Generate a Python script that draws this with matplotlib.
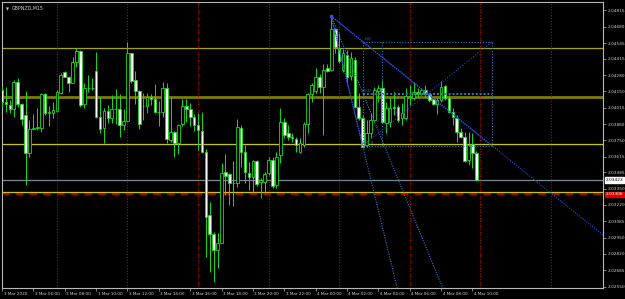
import numpy as np
import matplotlib.pyplot as plt
from matplotlib.transforms import ScaledTranslation, blended_transform_factory

## DATA - GBPNZD M15, 3 Mar 04:00 .. 4 Mar 10:15 (one entry per bar)

opens = [2.04160, 2.04064, 2.04037, 2.04002, 2.04223, 2.04045, 2.03955, 2.03642, 2.03838, 2.03849,
         2.03846, 2.04127, 2.03969, 2.03969, 2.03990, 2.04138, 2.04305, 2.04269, 2.04220, 2.04392,
         2.04479, 2.04043, 2.04174, 2.04176, 2.04316, 2.03941, 2.03851, 2.03988, 2.03933, 2.04004,
         2.04002, 2.03873, 2.03909, 2.04460, 2.04242, 2.04152, 2.04029, 2.04029, 2.04105, 2.04084,
         2.03979, 2.03977, 2.04174, 2.03750, 2.03814, 2.03723, 2.03882, 2.04029, 2.04002, 2.03941,
         2.03873, 2.03827, 2.03655, 2.03137, 2.02979, 2.02850, 2.02910, 2.03491, 2.03470, 2.03396,
         2.03401, 2.03851, 2.03655, 2.03483, 2.03446, 2.03578, 2.03404, 2.03404, 2.03478, 2.03587,
         2.03382, 2.03628, 2.03900, 2.03805, 2.03777, 2.03759, 2.03655, 2.03709, 2.03879, 2.04125,
         2.04152, 2.04269, 2.04187, 2.04338, 2.04324, 2.04659, 2.04501, 2.04324, 2.04447, 2.04275,
         2.04406, 2.04023, 2.03928, 2.03709, 2.03808, 2.03914, 2.04152, 2.04179, 2.03887, 2.03896,
         2.04023, 2.04023, 2.03928, 2.03928, 2.04105, 2.04092, 2.04141, 2.04125, 2.04160, 2.04125,
         2.04086, 2.04043, 2.04078, 2.04193, 2.04097, 2.03982, 2.03933, 2.03819, 2.03777, 2.03587,
         2.03715, 2.03642]
highs = [2.04187, 2.04187, 2.04078, 2.04242, 2.04261, 2.04051, 2.04152, 2.03914, 2.03963, 2.04010,
         2.04138, 2.04133, 2.04029, 2.04064, 2.04160, 2.04297, 2.04318, 2.04275, 2.04433, 2.04501,
         2.04488, 2.04215, 2.04283, 2.04258, 2.04469, 2.04100, 2.04010, 2.04037, 2.04119, 2.04166,
         2.04127, 2.04004, 2.04555, 2.04467, 2.04316, 2.04160, 2.04135, 2.04138, 2.04127, 2.04207,
         2.04070, 2.04228, 2.04215, 2.04105, 2.03824, 2.03882, 2.04086, 2.04086, 2.04051, 2.03961,
         2.03971, 2.03979, 2.03677, 2.03245, 2.03000, 2.02987, 2.03560, 2.03633, 2.03478, 2.03578,
         2.03922, 2.03873, 2.03709, 2.03573, 2.03587, 2.03587, 2.03442, 2.03491, 2.03614, 2.03614,
         2.03655, 2.04015, 2.03933, 2.03873, 2.03805, 2.03777, 2.03764, 2.03896, 2.04133, 2.04215,
         2.04338, 2.04289, 2.04370, 2.04370, 2.04764, 2.04668, 2.04627, 2.04496, 2.04488, 2.04471,
         2.04430, 2.04135, 2.03955, 2.03914, 2.03971, 2.04187, 2.04201, 2.04242, 2.04064, 2.04094,
         2.04141, 2.04037, 2.04053, 2.04174, 2.04201, 2.04228, 2.04174, 2.04179, 2.04201, 2.04133,
         2.04097, 2.04092, 2.04234, 2.04201, 2.04119, 2.04012, 2.03955, 2.03849, 2.03819, 2.03819,
         2.03805, 2.03660]
lows = [2.04023, 2.03982, 2.03974, 2.03941, 2.04018, 2.03873, 2.03382, 2.03614, 2.03832, 2.03832,
        2.03819, 2.03955, 2.03865, 2.03928, 2.03982, 2.04127, 2.04264, 2.04146, 2.04215, 2.04351,
        2.04018, 2.04010, 2.04141, 2.04160, 2.03928, 2.03805, 2.03728, 2.03892, 2.03887, 2.03882,
        2.03777, 2.03832, 2.03900, 2.04220, 2.04043, 2.03838, 2.03914, 2.03969, 2.04037, 2.03969,
        2.03865, 2.03941, 2.03723, 2.03736, 2.03614, 2.03636, 2.03865, 2.03900, 2.03865, 2.03824,
        2.03669, 2.03646, 2.02795, 2.02672, 2.02590, 2.02700, 2.02905, 2.03300, 2.03218, 2.03213,
        2.03368, 2.03532, 2.03396, 2.03341, 2.03327, 2.03376, 2.03278, 2.03314, 2.03464, 2.03355,
        2.03355, 2.03560, 2.03764, 2.03750, 2.03736, 2.03655, 2.03646, 2.03695, 2.03805, 2.04064,
        2.04133, 2.04133, 2.03791, 2.04310, 2.04316, 2.04463, 2.04381, 2.04310, 2.04225, 2.04242,
        2.04012, 2.03914, 2.03685, 2.03693, 2.03764, 2.03900, 2.04064, 2.03887, 2.03805, 2.03859,
        2.03955, 2.03900, 2.03873, 2.03914, 2.04037, 2.04078, 2.04105, 2.04119, 2.04105, 2.04064,
        2.04037, 2.03961, 2.04064, 2.04078, 2.03969, 2.03873, 2.03736, 2.03764, 2.03573, 2.03546,
        2.03519, 2.03417]
closes = [2.04064, 2.04043, 2.04002, 2.04228, 2.04045, 2.03925, 2.03642, 2.03841, 2.03846, 2.03857,
          2.04127, 2.03974, 2.03982, 2.03996, 2.04146, 2.04283, 2.04269, 2.04220, 2.04392, 2.04479,
          2.04037, 2.04174, 2.04176, 2.04174, 2.03941, 2.03838, 2.03988, 2.03933, 2.04004, 2.04002,
          2.03873, 2.03909, 2.04460, 2.04236, 2.04152, 2.03879, 2.04027, 2.04105, 2.04084, 2.03982,
          2.03982, 2.04174, 2.03756, 2.03814, 2.03723, 2.03873, 2.04029, 2.04002, 2.03941, 2.03873,
          2.03832, 2.03655, 2.03123, 2.02979, 2.02850, 2.02910, 2.03483, 2.03456, 2.03396, 2.03401,
          2.03855, 2.03655, 2.03486, 2.03448, 2.03578, 2.03390, 2.03426, 2.03470, 2.03587, 2.03376,
          2.03614, 2.03900, 2.03791, 2.03777, 2.03764, 2.03709, 2.03723, 2.03879, 2.04125, 2.04201,
          2.04269, 2.04187, 2.04324, 2.04318, 2.04659, 2.04512, 2.04397, 2.04460, 2.04269, 2.04422,
          2.04023, 2.03928, 2.03695, 2.03808, 2.03914, 2.04160, 2.04176, 2.03896, 2.04015, 2.04015,
          2.04015, 2.03914, 2.03969, 2.04113, 2.04108, 2.04141, 2.04125, 2.04160, 2.04125, 2.04078,
          2.04045, 2.04078, 2.04187, 2.04097, 2.03982, 2.03941, 2.03819, 2.03772, 2.03581, 2.03709,
          2.03642, 2.03423]

time_labels = ["3 Mar 2020", "3 Mar 06:00", "3 Mar 08:00", "3 Mar 10:00", "3 Mar 12:00",
               "3 Mar 14:00", "3 Mar 16:00", "3 Mar 18:00", "3 Mar 20:00", "3 Mar 22:00",
               "4 Mar 00:00", "4 Mar 02:00", "4 Mar 04:00", "4 Mar 06:00", "4 Mar 08:00",
               "4 Mar 10:00"]
time_label_bars = list(range(0, 121, 8))

price_ticks = [2.04815, 2.04680, 2.04545, 2.04415, 2.04280, 2.04150, 2.04015, 2.03880, 2.03750,
               2.03615, 2.03485, 2.03350, 2.03220, 2.03085, 2.02950, 2.02820, 2.02685, 2.02550]

# horizontal levels drawn on the chart
level_prices = [2.04502, 2.04105, 2.03718, 2.03323]
alert_price = 2.03306
separator_bars = [14, 32, 50, 68, 86, 104, 122, 140]

# fib retracement box + fan from the 4 Mar top
fan_origin = (84, 2.04764)
fib_start = (92, 2.03704)
fib_end = (125, 2.04556)
fib_mid_bar = 97
fan_targets = [(125, 2.03704), (92, 2.03704), (112.4, 2.02539)]

## STYLE

BG = "black"
CANDLE = "#19dc19"
AXIS_TXT = "#d2d2d2"
FRAME = "#b8b8b8"
BLUE = "#2a4bff"
STEEL = "#2a78c8"

X_LEFT, X_RIGHT = 0.18, 153.3
Y_LOW, Y_HIGH = 2.02539, 2.04881

fig = plt.figure(figsize=(6.25, 2.99), dpi=100, facecolor=BG)
ax = fig.add_axes([2 / 625, 11 / 299, 601 / 625, 286 / 299], facecolor=BG)
ax.set_xlim(X_LEFT, X_RIGHT)
ax.set_ylim(Y_LOW, Y_HIGH)

## LEVELS / SEPARATORS (background)

level_colors = ["#a6a600", "#7c7c00", "#c8c800", "#c8c800"]
level_widths = [0.9, 2.0, 0.9, 0.9]
for p, c, w in zip(level_prices, level_colors, level_widths):
    ax.axhline(p, color=c, lw=w, zorder=1)

ax.axhline(closes[-1], color="#7a8796", lw=0.9, zorder=1)
ax.axhline(alert_price, color="#e00000", lw=1.1, dashes=(5, 4), zorder=1)

for b in separator_bars:
    ax.axvline(b, color="#c40000", lw=0.8, ls=(0, (1, 1.5)), zorder=1)

## CANDLES

x = np.arange(len(opens))
o = np.array(opens)
c = np.array(closes)
ax.vlines(x, lows, highs, color=CANDLE, lw=0.7, zorder=3)

bull = c >= o
body_lo = np.minimum(o, c)
body_h = np.maximum(np.abs(c - o), 0.00002)
ax.bar(x[bull], body_h[bull], bottom=body_lo[bull], width=0.68,
       facecolor=BG, edgecolor=CANDLE, linewidth=0.6, zorder=4)
ax.bar(x[~bull], body_h[~bull], bottom=body_lo[~bull], width=0.68,
       facecolor="white", edgecolor=CANDLE, linewidth=0.6, zorder=4)

## BLUE OBJECTS (fib box, fan)

x0, y0 = fib_start
x1, y1 = fib_end
ymid = (y0 + y1) / 2
box_kw = dict(color=STEEL, lw=0.8, ls=(0, (1, 1.5)), zorder=5)
ax.plot([x0, x1], [y1, y1], **box_kw)
ax.plot([x0, x1], [y0, y0], **box_kw)
ax.plot([x1, x1], [y0, y1], **box_kw)
ax.plot([x0, x0], [y0, y1], **box_kw)
ax.plot([fib_mid_bar, fib_mid_bar], [y0, y1], **box_kw)
ax.plot([x0, x1], [ymid, ymid], color=STEEL, lw=1.4, ls=(0, (1, 1)), zorder=5)
ax.plot([x0, x1], [y0, y1], color="#2345c8", lw=0.8, ls=(0, (1, 1.5)), zorder=5)

lbl_kw = dict(color=STEEL, fontsize=3.2, va="bottom", ha="left", zorder=6)
ax.text(x0 + 0.6, y1 + 0.00003, "0.0", **lbl_kw)
ax.text(x0 - 0.2, ymid + 0.00003, "50.0", **lbl_kw)
ax.text(x0 - 0.2, y0 + 0.00003, "100.0", **lbl_kw)

fx, fy = fan_origin
for k, (tx, ty) in enumerate(fan_targets):
    slope = (ty - fy) / (tx - fx)
    end_x = X_RIGHT if k == 0 else fx + (Y_LOW - fy) / slope
    col = BLUE if k == 0 else STEEL
    ax.plot([fx, end_x], [fy, fy + slope * (end_x - fx)], color=col, lw=0.8,
            ls=(0, (1, 1.2)), zorder=5)
# brighter segments of the fan base
ax.plot([fx, fib_start[0]], [fy, fib_start[1]], color=BLUE, lw=0.9, ls=(0, (1, 0.8)), zorder=5)
ax.plot([fx, fan_targets[0][0]], [fy, fan_targets[0][1]], color=BLUE, lw=0.9, ls=(0, (1, 0.8)), zorder=5)
ax.plot([fx], [fy], marker="s", ms=1.6, color="#3050ff", zorder=6)

## AXES / LABELS

for side in ["top", "bottom", "left", "right"]:
    ax.spines[side].set_color(FRAME)
    ax.spines[side].set_linewidth(0.8)

ax.yaxis.tick_right()
ax.set_yticks(price_ticks)
ax.set_yticklabels([f"{p:.5f}" for p in price_ticks])
ax.tick_params(axis="y", colors=FRAME, labelcolor=AXIS_TXT, labelsize=3.1,
               length=2, width=0.5, pad=1.5)

ax.set_xticks(time_label_bars)
ax.set_xticklabels(time_labels, ha="left")
ax.tick_params(axis="x", colors=FRAME, labelcolor=AXIS_TXT, labelsize=3.0,
               length=2, width=0.5, pad=1.2)
shift = ScaledTranslation(1.5 / 100, 0, fig.dpi_scale_trans)
for lbl in ax.get_xticklabels():
    lbl.set_transform(lbl.get_transform() + shift)

# price tags on the right scale
tag_tf = blended_transform_factory(ax.transAxes, ax.transData)
ax.text(1.004, closes[-1], f"{closes[-1]:.5f}", transform=tag_tf, fontsize=3.1,
        color="black", va="center", ha="left", clip_on=False,
        bbox=dict(boxstyle="square,pad=0.15", fc="white", ec="white"))
ax.text(1.004, alert_price, f"{alert_price:.5f}", transform=tag_tf, fontsize=3.1,
        color="white", va="center", ha="left", clip_on=False,
        bbox=dict(boxstyle="square,pad=0.15", fc="#e00000", ec="#e00000"))

# symbol caption
ax.text(0.006, 0.982, "\u25bc", transform=ax.transAxes, fontsize=2.8,
        color=AXIS_TXT, va="top", ha="left")
ax.text(0.016, 0.986, "GBPNZD,M15", transform=ax.transAxes, fontsize=3.4,
        color=AXIS_TXT, va="top", ha="left")

plt.savefig("out.png", dpi=100, facecolor=BG)
plt.close()
